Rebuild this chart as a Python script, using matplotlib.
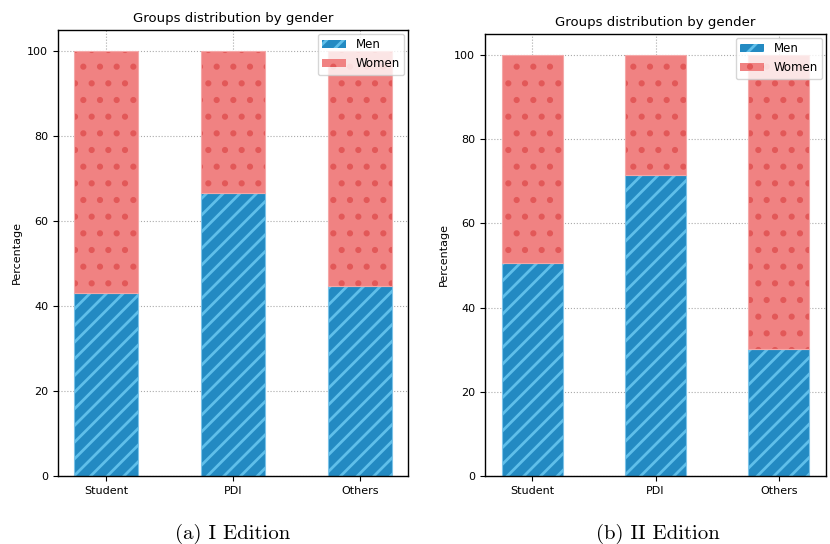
import matplotlib
matplotlib.use("Agg")
import matplotlib.pyplot as plt
import numpy as np

categories = ["Student", "PDI", "Others"]
men_I = [43.0, 66.7, 44.7]
men_II = [50.6, 71.4, 30.2]
women_I = [100 - v for v in men_I]
women_II = [100 - v for v in men_II]
yticks = [0, 20, 40, 60, 80, 100]

plt.rcParams['font.family'] = ['DejaVu Sans']
plt.rcParams['hatch.linewidth'] = 2.0

fig = plt.figure(figsize=(8.3, 5.44), dpi=100)
ax1 = fig.add_axes([58/830, 1-476/544, 350/830, 446/544])
ax2 = fig.add_axes([485/830, 1-476/544, 341/830, 442/544])

men_face = "#238ac2"
men_hatch = "#5fbfea"
women_face = "#f08282"
women_hatch = "#e25858"

def draw(ax, men, women, x0):
    x = np.arange(len(categories))
    ax.bar(x, men, width=0.5, color=men_face, edgecolor=men_hatch, hatch="//",
           linewidth=0.0, label="Men", zorder=2)
    ax.bar(x, men, width=0.5, fill=False, edgecolor="#7cc3e8", linewidth=0.8, zorder=2)
    ax.bar(x, women, bottom=men, width=0.5, color=women_face, edgecolor=women_hatch,
           hatch=".", linewidth=0.0, label="Women", zorder=2)
    ax.bar(x, women, bottom=men, width=0.5, fill=False, edgecolor="#f4a8a8", linewidth=0.8, zorder=2)
    ax.set_xticks(x)
    ax.set_xticklabels(categories, fontsize=8)
    ax.set_yticks(yticks)
    ax.tick_params(axis='y', labelsize=8)
    ax.set_ylim(0, 105)
    ax.set_xlim(-x0, 2 + x0)
    ax.grid(True, linestyle=':', color='#aaaaaa', linewidth=0.8, zorder=3)
    ax.set_ylabel("Percentage", fontsize=8)
    ax.set_title("Groups distribution by gender", fontsize=9.5)
    ax.legend(loc="upper right", fontsize=8.5, framealpha=0.8, borderaxespad=0.3)
    for s in ax.spines.values():
        s.set_color("black")
        s.set_linewidth(1.0)

draw(ax1, men_I, women_I, 0.376)
draw(ax2, men_II, women_II, 0.384)

fig.text(233/830, 1-534/544, "(a) I Edition", ha="center", va="center",
         fontsize=15, family="cmr10")
fig.text(658/830, 1-534/544, "(b) II Edition", ha="center", va="center",
         fontsize=15, family="cmr10")

fig.savefig("out.png", dpi=100)
